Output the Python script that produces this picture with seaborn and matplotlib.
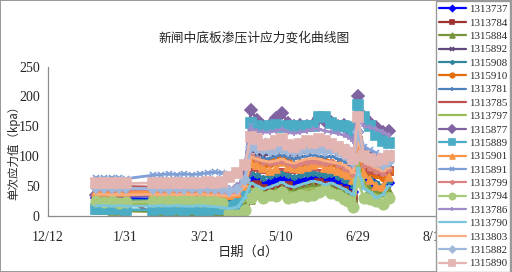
import pandas as pd
import seaborn as sns
import matplotlib.pyplot as plt

# observation dates (2012)
dates = pd.to_datetime([
    '2012-01-12', '2012-01-17', '2012-01-22', '2012-01-27', '2012-01-31',
    '2012-02-18', '2012-02-23', '2012-02-28', '2012-03-04', '2012-03-09',
    '2012-03-14', '2012-03-19', '2012-03-24', '2012-03-29', '2012-04-02',
    '2012-04-07', '2012-04-12', '2012-04-17', '2012-04-21', '2012-04-25',
    '2012-04-29', '2012-05-03', '2012-05-07', '2012-05-11', '2012-05-15',
    '2012-05-19', '2012-05-23', '2012-05-27', '2012-05-31', '2012-06-04',
    '2012-06-08', '2012-06-12', '2012-06-16', '2012-06-20', '2012-06-23',
    '2012-06-26', '2012-06-29', '2012-07-03', '2012-07-07', '2012-07-11',
    '2012-07-15', '2012-07-19',
])

# stress values (kpa) per sensor
s1313737 = [30, 30, 29, 30, 29,
            28, 28, 29, 28, 28, 29, 28, 27, 28, 26,
            22, 20, 30, 62, 58, 52, 55, 60, 62, 58, 55, 60, 58, 62, 60, 58, 62, 55, 50, 48, 40, 140, 75, 60, 50, 45, 55]
s1313784 = [30, 29, 30, 28, 28,
            3, 3, 4, 3, 2, 3, 2, 2, 1, 0,
            2, 4, 25, 50, 52, 45, 40, 45, 48, 50, 42, 45, 48, 52, 55, 50, 48, 45, 42, 35, 28, 125, 80, 75, 72, 70, 75]
s1315884 = [9, 9, 8, 8, 8,
            7, 7, 8, 7, 7, 8, 7, 7, 6, 5,
            4, 10, 20, 26, 35, 40, 38, 42, 45, 40, 42, 45, 48, 50, 48, 45, 48, 42, 40, 38, 30, 95, 55, 45, 40, 38, 42]
s1315892 = [36, 35, 36, 35, 35,
            35, 36, 35, 36, 35, 35, 36, 35, 36, 38,
            40, 42, 55, 110, 105, 100, 105, 108, 110, 105, 100, 105, 108, 110, 112, 108, 110, 105, 100, 98, 90, 140, 110, 105, 100, 95, 100]
s1315908 = [27, 27, 26, 27, 26,
            26, 27, 26, 26, 27, 26, 26, 27, 26, 25,
            24, 22, 40, 72, 68, 64, 66, 70, 72, 68, 65, 68, 70, 72, 70, 68, 70, 65, 60, 58, 50, 120, 70, 62, 55, 50, 58]
s1315910 = [38, 37, 38, 37, 37,
            38, 37, 38, 37, 38, 37, 38, 37, 36, 35,
            35, 36, 55, 95, 90, 85, 88, 92, 95, 90, 85, 88, 90, 92, 95, 90, 88, 85, 80, 75, 65, 130, 85, 75, 70, 65, 75]
s1313781 = [42, 41, 42, 41, 41,
            42, 41, 42, 41, 42, 41, 42, 41, 40, 40,
            42, 45, 60, 100, 98, 95, 96, 100, 102, 98, 95, 98, 100, 102, 100, 98, 100, 95, 92, 88, 80, 135, 95, 90, 85, 80, 85]
s1313785 = [50, 49, 50, 49, 49,
            48, 49, 48, 49, 48, 48, 49, 48, 47, 46,
            45, 44, 55, 78, 75, 72, 74, 76, 78, 74, 72, 74, 76, 78, 76, 74, 76, 72, 68, 65, 58, 115, 78, 72, 70, 68, 72]
s1313797 = [20, 20, 19, 20, 19,
            20, 19, 20, 19, 20, 19, 20, 19, 18, 16,
            14, 12, 25, 45, 42, 38, 40, 42, 45, 40, 38, 42, 44, 46, 45, 42, 44, 40, 36, 32, 25, 90, 50, 40, 35, 32, 38]
s1315877 = [34, 34, 33, 34, 33,
            33, 34, 33, 34, 33, 34, 33, 34, 34, 35,
            40, 45, 70, 178, 160, 150, 152, 164, 172, 155, 150, 152, 150, 152, 164, 158, 157, 150, 152, 145, 135, 200, 165, 155, 148, 140, 142]
s1315889 = [12, 11, 12, 11, 10,
            10, 11, 10, 11, 10, 11, 10, 10, 11, 12,
            15, 20, 35, 155, 150, 148, 150, 152, 148, 150, 150, 148, 150, 150, 165, 165, 155, 150, 150, 148, 140, 185, 165, 150, 135, 125, 122]
s1315901 = [40, 40, 39, 40, 39,
            40, 39, 40, 39, 40, 39, 40, 39, 38, 36,
            35, 38, 50, 88, 85, 80, 75, 78, 90, 82, 80, 78, 82, 85, 88, 80, 78, 75, 72, 68, 60, 120, 70, 60, 50, 48, 65]
s1315891 = [64, 63, 64, 63, 62,
            68, 69, 70, 69, 70, 69, 70, 72, 73, 72,
            70, 75, 85, 150, 130, 125, 120, 122, 125, 120, 118, 122, 125, 120, 125, 122, 120, 118, 115, 110, 105, 150, 115, 110, 105, 100, 105]
s1313799 = [44, 44, 43, 44, 43,
            44, 43, 44, 43, 44, 43, 44, 43, 42, 40,
            38, 40, 60, 100, 95, 90, 88, 90, 92, 88, 85, 88, 90, 92, 90, 88, 90, 85, 80, 78, 70, 125, 85, 80, 75, 72, 78]
s1313794 = [24, 23, 24, 22, 23,
            24, 25, 26, 25, 26, 25, 24, 25, 24, 22,
            5, 2, 10, 30, 40, 30, 35, 33, 40, 30, 32, 35, 33, 35, 40, 45, 38, 35, 28, 25, 15, 58, 30, 28, 25, 20, 30]
s1313786 = [47, 47, 46, 47, 46,
            46, 47, 46, 47, 46, 47, 46, 47, 46, 45,
            45, 48, 65, 145, 142, 140, 140, 142, 145, 140, 138, 140, 142, 145, 145, 142, 140, 138, 135, 132, 125, 170, 150, 148, 145, 140, 135]
s1313790 = [17, 17, 16, 17, 16,
            16, 17, 16, 17, 16, 16, 17, 16, 15, 14,
            12, 14, 30, 55, 50, 45, 48, 52, 56, 50, 48, 52, 55, 58, 56, 52, 55, 50, 45, 40, 35, 80, 45, 40, 30, 35, 50]
s1313803 = [36, 36, 35, 36, 35,
            36, 35, 36, 35, 36, 35, 36, 35, 35, 34,
            33, 35, 50, 98, 95, 92, 90, 92, 95, 90, 88, 92, 95, 96, 95, 92, 90, 88, 85, 80, 72, 128, 90, 85, 80, 75, 80]
s1315882 = [47, 46, 47, 46, 46,
            45, 46, 45, 46, 45, 46, 45, 46, 45, 44,
            42, 45, 60, 115, 112, 110, 108, 110, 112, 108, 106, 108, 110, 112, 110, 108, 110, 106, 102, 98, 90, 140, 100, 95, 90, 85, 90]
s1315890 = [55, 54, 55, 54, 54,
            55, 54, 55, 54, 55, 54, 55, 56, 55, 56,
            65, 72, 85, 132, 128, 118, 120, 125, 128, 118, 115, 120, 125, 122, 128, 125, 120, 115, 110, 105, 95, 165, 100, 95, 92, 95, 100]

sensor_ids = ['1313737', '1313784', '1315884', '1315892', '1315908', '1315910',
              '1313781', '1313785', '1313797', '1315877', '1315889', '1315901',
              '1315891', '1313799', '1313794', '1313786', '1313790', '1313803',
              '1315882', '1315890']
series = [s1313737, s1313784, s1315884, s1315892, s1315908, s1315910,
          s1313781, s1313785, s1313797, s1315877, s1315889, s1315901,
          s1315891, s1313799, s1313794, s1313786, s1313790, s1313803,
          s1315882, s1315890]

colors = ['#0000FF', '#9B3230', '#77933C', '#604A7B', '#31859C', '#E46C0A',
          '#4F81BD', '#C0504D', '#9BBB59', '#8064A2', '#4BACC6', '#F79646',
          '#7F9FD6', '#D9827F', '#A9C97E', '#A08BC9', '#7CC6DB', '#F9AE82',
          '#A0B8DA', '#E2B4B2']
markers = ['D', 's', '^', 'x', (6, 2, 0), 'o', '+', '_', '_', 'D',
           's', '^', 'x', (6, 2, 0), 'o', '+', '_', '_', 'D', 's']
msizes = [5, 5.5, 6, 5, 5, 5.5, 5, 4, 4, 6.5, 6.5, 6, 5, 5, 7.5, 5, 4, 4, 5.5, 6.5]

cjk = ['Noto Sans CJK SC', 'DejaVu Sans']
serif = 'Liberation Serif'

sns.set_style('white')
fig = plt.figure(figsize=(5.12, 2.72), dpi=100, edgecolor='#9a9a9a', linewidth=1.2)
ax = fig.add_axes([0.094, 0.207, 0.756, 0.548])

for name, vals, c, m, ms in zip(sensor_ids, series, colors, markers, msizes):
    sns.lineplot(x=dates, y=vals, ax=ax, color=c, marker=m, markersize=ms,
                 markeredgecolor=c, markeredgewidth=1.2, linewidth=2.0,
                 label=name)

if ax.get_legend() is not None:
    ax.get_legend().remove()

# axes styling (Excel look)
ticks = pd.date_range('2011-12-12', periods=6, freq='50D')
ax.set_xlim(ticks[0], ticks[-1])
ax.set_xticks(ticks)
ax.set_xticklabels([f'{d.month}/{d.day}' for d in ticks], fontfamily=serif, fontsize=10)
ax.set_ylim(0, 250)
ax.set_yticks(range(0, 251, 50))
ax.set_yticklabels([str(v) for v in range(0, 251, 50)], fontfamily=serif, fontsize=10)
ax.tick_params(axis='both', length=3, width=0.8, color='#8c8c8c', pad=3)
ax.tick_params(axis='x', pad=8)
for side in ['top', 'right']:
    ax.spines[side].set_visible(False)
for side in ['left', 'bottom']:
    ax.spines[side].set_color('#8c8c8c')
    ax.spines[side].set_linewidth(0.9)
ax.grid(False)
ax.set_xlabel('')
ax.set_ylabel('')

fig.text(0.497, 0.86, '新闸中底板渗压计应力变化曲线图', ha='center', va='center',
         fontsize=9.2, family=cjk)
fig.text(0.484, 0.073, '日期（d）', ha='center', va='center', fontsize=9.5, family=cjk)
fig.text(0.028, 0.449, '单次应力值（kpa）', ha='center', va='center', rotation=90,
         fontsize=8.3, family=cjk)

handles, labels = ax.get_legend_handles_labels()
leg = fig.legend(handles, labels, loc='upper right', bbox_to_anchor=(0.997, 0.995),
                 prop={'family': serif, 'size': 7.8}, frameon=True, fancybox=False,
                 edgecolor='#9a9a9a', framealpha=1, borderpad=0.3,
                 labelspacing=0.35, handlelength=2.5, handletextpad=0.25,
                 markerscale=0.6, borderaxespad=0)
leg.get_frame().set_linewidth(1.0)
leg.set_zorder(10)
for line in leg.get_lines():
    line.set_linewidth(1.6)

fig.savefig('out.png', dpi=100)
